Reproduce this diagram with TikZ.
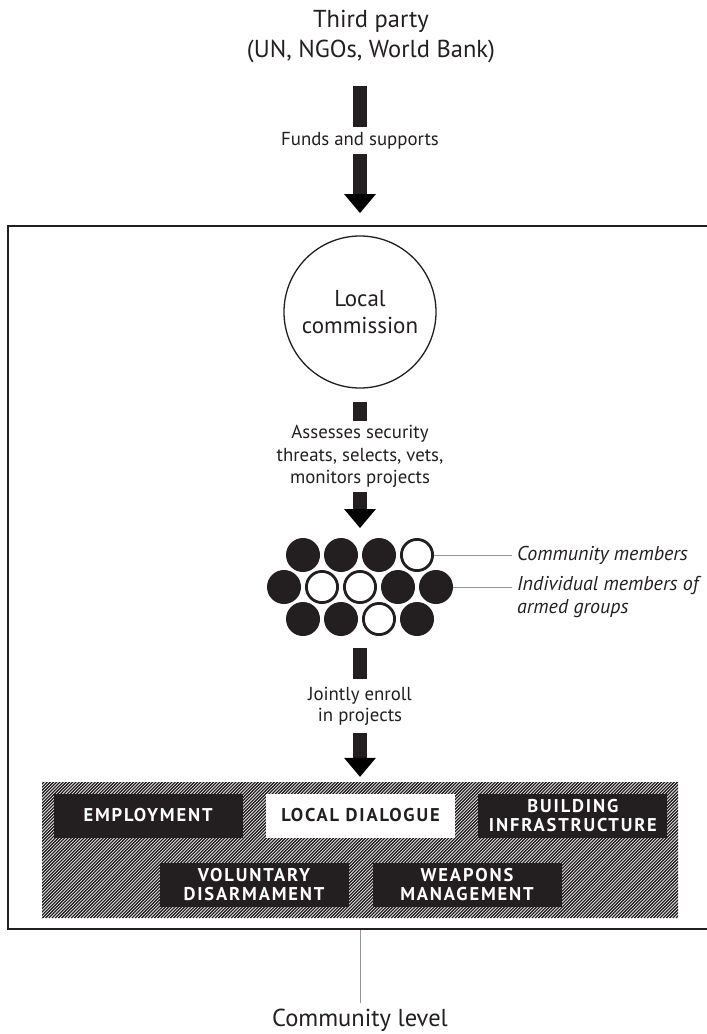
\documentclass[tikz,border=0pt]{standalone}
\usepackage{fontspec}
\setmainfont{PT Sans}
\newfontfamily\tagfont{PT Sans}[LetterSpace=10]
\usepackage{tikz}
\usetikzlibrary{arrows.meta, positioning}
\definecolor{ink}{RGB}{35,31,32}
\definecolor{leadgray}{RGB}{150,150,150}

\begin{document}
\begin{tikzpicture}[x=1pt,y=-1pt,inner sep=0pt,text=ink]
  \tikzstyle{note}=[font=\fontsize{18.8}{22.5}\selectfont, align=center]
  \tikzstyle{big}=[font=\fontsize{24.5}{30}\selectfont, align=center]
  \tikzstyle{side}=[font=\itshape\fontsize{20}{23}\selectfont, align=left, inner xsep=5pt]
  \tikzstyle{shaft}=[draw=ink, line width=14pt]
  \tikzstyle{shaft tip}=[shaft, -{Triangle[width=32pt,length=19pt,line width=0pt]}]
  \tikzstyle{leader}=[draw=leadgray, line width=1pt]
  \tikzstyle{member}=[circle, fill=ink, minimum size=34pt]
  \tikzstyle{civ}=[circle, draw=ink, fill=white, line width=2.8pt, minimum size=31.2pt]
  \tikzstyle{task}=[fill=ink, text=white, minimum width=189pt, minimum height=44pt,
    align=center, font=\tagfont\bfseries\fontsize{18.5}{19.5}\selectfont]
  \useasboundingbox (0,0) rectangle (707,1034);

  % funding
  \node[big] (third) at (371,37) {Third party\\(UN, NGOs, World Bank)};
  \coordinate (a1top) at (360,86);
  \node[note, minimum height=27pt] (funds) at (360,140.5) {Funds and supports};
  \coordinate (a1tip) at (360,213);

  % community level frame
  \draw[ink, line width=2pt] (712,226) -| (8,929) -- (712,929);
  \coordinate (framebot) at (360,930);

  \node[circle, draw=ink, line width=1.3pt, minimum size=152pt, big, font=\fontsize{23}{27}\selectfont]
    (lc) at (360,312) {Local\\commission};
  \node[note, minimum height=71pt] (assess) at (360,456.5)
    {Assesses security\\threats, selects, vets,\\monitors projects};
  \coordinate (a2tip) at (360,528);

  % members
  \foreach \x/\k [count=\i] in {303/member,341/member,379/member,417/civ}
    \node[\k] (m-1-\i) at (\x,555) {};
  \foreach \x/\k [count=\i] in {284/member,322/civ,360/civ,398/member,436/member}
    \node[\k] (m-2-\i) at (\x,587) {};
  \foreach \x/\k [count=\i] in {303/member,341/member,379/civ,417/member}
    \node[\k] (m-3-\i) at (\x,619) {};
  \node[side, anchor=west] (commlbl) at (512,555) {Community members};
  \node[side, anchor=north west] (armedlbl) at (512,576) {Individual members of\\armed groups};

  \coordinate (a3top) at (360,648);
  \node[note, minimum height=54pt, font=\fontsize{18.8}{21}\selectfont] (enroll) at (360,706)
    {Jointly enroll\\in projects};

  % projects
  \node[minimum width=636pt, minimum height=136pt,
    path picture={
      \foreach \k in {0,3.2,...,800}
        \draw[ink, line width=1.3pt]
          ([xshift={\k pt-150pt}]path picture bounding box.south west) -- ++(150,-150);
    }] (projects) at (360,850) {};
  \node[task, fill=white, text=ink] (dialogue) at (360.5,815.5) {LOCAL DIALOGUE};
  \node[task] (employ) [left=23pt of dialogue] {EMPLOYMENT};
  \node[task] (building) [right=23pt of dialogue] {BUILDING\\INFRASTRUCTURE};
  \node[task] (disarm) at (254,884.5) {VOLUNTARY\\DISARMAMENT};
  \node[task] (weapons) at (467,884.5) {WEAPONS\\MANAGEMENT};

  \node[big] (level) at (360,1020) {Community level};

  \path[shaft]
  (a1top) edge (funds)
  (lc) edge [shorten <=13pt] (assess)
  (a3top) edge (enroll)
  ;
  \path[shaft tip]
  (funds) edge (a1tip)
  (assess) edge (a2tip)
  (enroll) edge [shorten >=5pt] (projects)
  ;
  \path[leader]
  (m-1-4) edge (commlbl)
  (m-2-5) edge (m-2-5 -| armedlbl.west)
  (framebot) edge [shorten >=6pt] (level)
  ;
\end{tikzpicture}
\end{document}
